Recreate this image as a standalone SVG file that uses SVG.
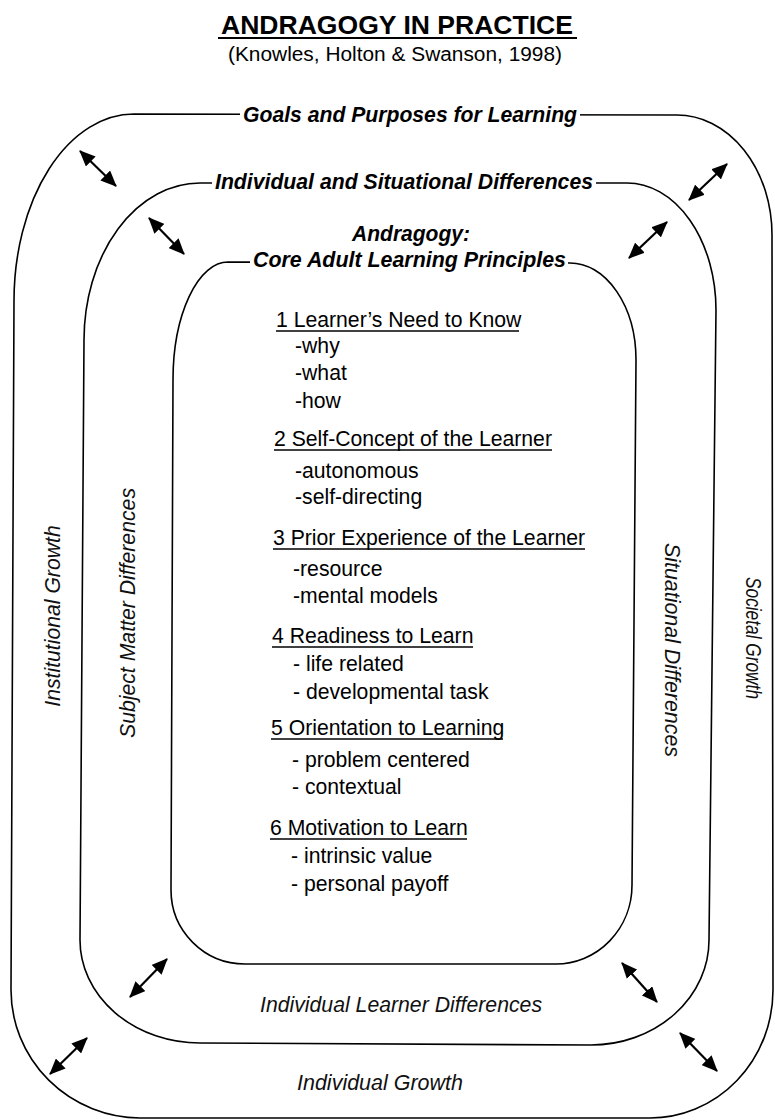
<svg xmlns="http://www.w3.org/2000/svg" width="775" height="1120" viewBox="0 0 775 1120">
<defs>
<style>
.ring{fill:none;stroke:#000;stroke-width:1.6}
.mask{fill:#fff;stroke:none}
.lbl{font-family:"Liberation Sans",Arial,sans-serif;font-style:italic;font-weight:bold;font-size:21.3px;fill:#000}
.side{font-family:"Liberation Sans",Arial,sans-serif;font-style:italic;font-size:21.2px;fill:#111}
.head{font-family:"Liberation Sans",Arial,sans-serif;font-size:21.2px;fill:#000}
.item{font-family:"Liberation Sans",Arial,sans-serif;font-size:21.2px;fill:#000}
.ul{stroke:#000;stroke-width:1.3}
.arr{stroke:#000;stroke-width:2.2;fill:none;marker-start:url(#ah);marker-end:url(#ah)}
</style>
<marker id="ah" markerUnits="userSpaceOnUse" markerWidth="16" markerHeight="14" viewBox="0 0 16 14" refX="15" refY="7" orient="auto-start-reverse">
<path d="M0,0 L16,7 L0,14 Z" fill="#000"/>
</marker>
</defs>
<rect x="0" y="0" width="775" height="1120" fill="#fff"/>

<g id="title">
<text x="221" y="34" font-family="Liberation Sans,Arial,sans-serif" font-weight="bold" font-size="26" textLength="352" lengthAdjust="spacingAndGlyphs">ANDRAGOGY IN PRACTICE</text>
<line x1="218" y1="38" x2="577" y2="38" stroke="#000" stroke-width="2.2"/>
<text x="228" y="61" font-family="Liberation Sans,Arial,sans-serif" font-size="20" textLength="334" lengthAdjust="spacingAndGlyphs">(Knowles, Holton &amp; Swanson, 1998)</text>
</g>

<g id="ring-outer">
<path class="ring" d="M134,114 L677,115 A95,120 0 0 1 772,235 L773,990 A123,128 0 0 1 650,1118 L140,1118 A130,128 0 0 1 11,990 L14,301 A120,187 0 0 1 134,114 Z"/>
<rect class="mask" x="240" y="104" width="340" height="24"/>
<text class="lbl" x="243" y="122" textLength="334" lengthAdjust="spacingAndGlyphs">Goals and Purposes for Learning</text>
<text class="side" transform="translate(60,616) rotate(-90)" text-anchor="middle">Institutional Growth</text>
<text class="side" transform="translate(746,638) rotate(90)" text-anchor="middle" textLength="122" lengthAdjust="spacingAndGlyphs">Societal Growth</text>
<text class="side" x="297" y="1090" textLength="166" lengthAdjust="spacingAndGlyphs">Individual Growth</text>
</g>

<g id="ring-middle">
<path class="ring" d="M200,183 L627,183 A89,127 0 0 1 716,310 L709,940 A118,105 0 0 1 591,1045 L200,1043 A120,103 0 0 1 80,940 L84,340 A116,157 0 0 1 200,183 Z"/>
<rect class="mask" x="212" y="167" width="384" height="26"/>
<text class="lbl" x="215" y="189" textLength="378" lengthAdjust="spacingAndGlyphs">Individual and Situational Differences</text>
<text class="side" transform="translate(135,613) rotate(-90)" text-anchor="middle" textLength="250" lengthAdjust="spacingAndGlyphs">Subject Matter Differences</text>
<text class="side" transform="translate(665,650) rotate(90)" text-anchor="middle" textLength="214" lengthAdjust="spacingAndGlyphs">Situational Differences</text>
<text class="side" x="260" y="1012" textLength="282" lengthAdjust="spacingAndGlyphs">Individual Learner Differences</text>
</g>

<g id="ring-inner">
<path class="ring" d="M228,262 L570,263 A66,97 0 0 1 636,360 L632,885 A76,79 0 0 1 556,964 L245,964 A74,74 0 0 1 171,890 L173,380 A55,118 0 0 1 228,262 Z"/>
<text class="lbl" x="352" y="241" textLength="118" lengthAdjust="spacingAndGlyphs">Andragogy:</text>
<rect class="mask" x="250" y="246" width="318" height="26"/>
<text class="lbl" x="253" y="267" textLength="313" lengthAdjust="spacingAndGlyphs">Core Adult Learning Principles</text>
</g>

<g id="principle-1">
<text class="head" x="276" y="327">1 Learner’s Need to Know</text>
<line class="ul" x1="276" y1="331" x2="519" y2="331"/>
<text class="item" x="295" y="353">-why</text>
<text class="item" x="295" y="380">-what</text>
<text class="item" x="295" y="408">-how</text>
</g>
<g id="principle-2">
<text class="head" x="274" y="446">2 Self-Concept of the Learner</text>
<line class="ul" x1="274" y1="450" x2="552" y2="450"/>
<text class="item" x="295" y="478">-autonomous</text>
<text class="item" x="295" y="504">-self-directing</text>
</g>
<g id="principle-3">
<text class="head" x="273" y="545">3 Prior Experience of the Learner</text>
<line class="ul" x1="273" y1="549" x2="585" y2="549"/>
<text class="item" x="293" y="576">-resource</text>
<text class="item" x="293" y="603">-mental models</text>
</g>
<g id="principle-4">
<text class="head" x="272" y="643">4 Readiness to Learn</text>
<line class="ul" x1="272" y1="647" x2="473" y2="647"/>
<text class="item" x="293" y="671">- life related</text>
<text class="item" x="293" y="699">- developmental task</text>
</g>
<g id="principle-5">
<text class="head" x="271" y="735">5 Orientation to Learning</text>
<line class="ul" x1="271" y1="739" x2="503" y2="739"/>
<text class="item" x="292" y="767">- problem centered</text>
<text class="item" x="292" y="794">- contextual</text>
</g>
<g id="principle-6">
<text class="head" x="270" y="835">6 Motivation to Learn</text>
<line class="ul" x1="270" y1="839" x2="467" y2="839"/>
<text class="item" x="291" y="863">- intrinsic value</text>
<text class="item" x="291" y="891">- personal payoff</text>
</g>

<g id="connectors">
<line class="arr" x1="80" y1="151" x2="116" y2="186"/>
<line class="arr" x1="149" y1="218" x2="184" y2="254"/>
<line class="arr" x1="727" y1="164" x2="689" y2="200"/>
<line class="arr" x1="667" y1="222" x2="629" y2="258"/>
<line class="arr" x1="130" y1="997" x2="167" y2="959"/>
<line class="arr" x1="50" y1="1074" x2="87" y2="1038"/>
<line class="arr" x1="622" y1="963" x2="657" y2="1002"/>
<line class="arr" x1="680" y1="1033" x2="717" y2="1071"/>
</g>
</svg>
